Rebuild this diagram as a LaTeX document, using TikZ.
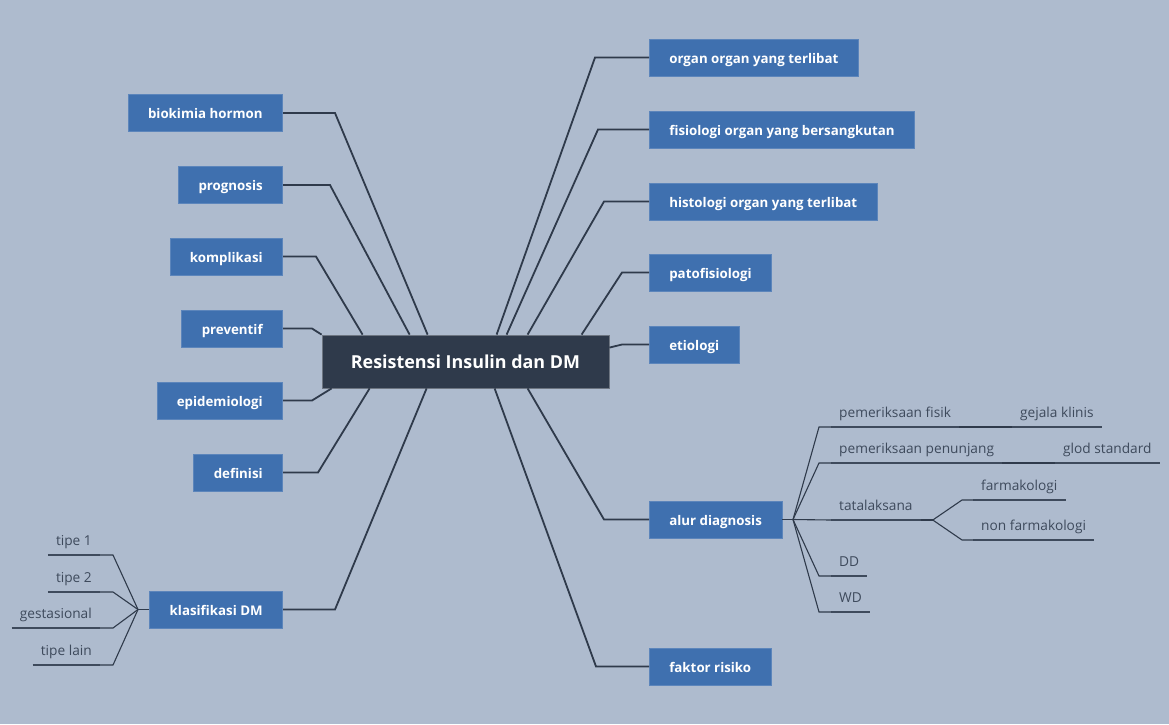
\documentclass[tikz,border=0pt]{standalone}
\usepackage{fontspec}
\setmainfont{Open Sans}
\definecolor{bgcol}{HTML}{AEBBCE}
\definecolor{topicblue}{HTML}{3F70AF}
\definecolor{rootcol}{HTML}{2F3A4B}
\definecolor{linecol}{HTML}{2F3A4B}
\definecolor{leafcol}{HTML}{3E4A5C}
\tikzset{
  root/.style={rectangle, fill=rootcol, draw=rootcol!70!white, line width=0.8pt, text=white,
    font=\fontsize{17.9}{21}\selectfont\bfseries, minimum width=287pt, minimum height=53pt,
    text height=13pt, text depth=0pt},
  topic/.style={rectangle, fill=topicblue, draw=topicblue!85!white, line width=0.6pt, text=white,
    font=\fontsize{13.3}{16}\selectfont\bfseries, minimum height=37pt, inner xsep=20pt,
    text height=11pt, text depth=0pt},
  leaf/.style={inner xsep=8pt, inner ysep=5pt, text=leafcol, text height=10pt, text depth=4pt,
    font=\fontsize{13.7}{16}\selectfont},
  branch/.style={draw=linecol, line width=1.8pt},
  twig/.style={draw=linecol, line width=1.1pt},
  uline/.style={draw=leafcol, line width=1.6pt}
}
\begin{document}
\begin{tikzpicture}[x=1pt,y=-1pt]
\fill[bgcol] (0,0) rectangle (1169,724);
\useasboundingbox (0,0) rectangle (1169,724);

\node[root] (c) at (465.5,361.5) {Resistensi Insulin dan DM};

% right topics
\node[topic, anchor=west] (org) at (649,57.5) {organ organ yang terlibat};
\node[topic, anchor=west] (fis) at (649,129.5) {fisiologi organ yang bersangkutan};
\node[topic, anchor=west] (his) at (649,201.5) {histologi organ yang terlibat};
\node[topic, anchor=west] (pat) at (649,272.5) {patofisiologi};
\node[topic, anchor=west] (eti) at (649,344.5) {etiologi};
\node[topic, anchor=west] (alur) at (649,519.5) {alur diagnosis};
\node[topic, anchor=west] (fak) at (649,666.5) {faktor risiko};

% left topics
\node[topic, anchor=east] (bio) at (283,113) {biokimia hormon};
\node[topic, anchor=east] (pro) at (283,185) {prognosis};
\node[topic, anchor=east] (kom) at (283,256.5) {komplikasi};
\node[topic, anchor=east] (pre) at (283,328.5) {preventif};
\node[topic, anchor=east] (epi) at (283,400.5) {epidemiologi};
\node[topic, anchor=east] (def) at (283,472.5) {definisi};
\node[topic, anchor=east] (kla) at (283,609.5) {klasifikasi DM};

\draw[branch] (org.west) -- ++(-54,0) -- ([xshift=175pt]c.north west);
\draw[branch] (fis.west) -- ++(-51,0) -- ([xshift=185pt]c.north west);
\draw[branch] (his.west) -- ++(-45,0) -- ([xshift=206pt]c.north west);
\draw[branch] (pat.west) -- ++(-27,0) -- ([xshift=260pt]c.north west);
\draw[branch] (eti.west) -- ++(-27,0) -- ([yshift=-13pt]c.north east);
\draw[branch] (alur.west) -- ++(-45,0) -- ([xshift=206pt]c.south west);
\draw[branch] (fak.west) -- ++(-53,0) -- ([xshift=173pt]c.south west);

\draw[branch] (bio.east) -- ++(52,0) -- ([xshift=106pt]c.north west);
\draw[branch] (pro.east) -- ++(47,0) -- ([xshift=88pt]c.north west);
\draw[branch] (kom.east) -- ++(33,0) -- ([xshift=41pt]c.north west);
\draw[branch] (pre.east) -- ++(29,0) -- (c.north west);
\draw[branch] (epi.east) -- ++(29,0) -- ([xshift=10pt]c.south west);
\draw[branch] (def.east) -- ++(35,0) -- ([xshift=48pt]c.south west);
\draw[branch] (kla.east) -- ++(52,0) -- ([xshift=105pt]c.south west);

% alur diagnosis leaves
\node[leaf, anchor=south west] (pf) at (831,427) {pemeriksaan fisik};
\node[leaf, anchor=south west] (gk) at (1012,427) {gejala klinis};
\node[leaf, anchor=south west] (pp) at (831,463) {pemeriksaan penunjang};
\node[leaf, anchor=south west] (gs) at (1055,463) {glod standard};
\node[leaf, anchor=south west] (tl) at (831,520) {tatalaksana};
\node[leaf, anchor=south west] (fk) at (973,500) {farmakologi};
\node[leaf, anchor=south west] (nf) at (973,540) {non farmakologi};
\node[leaf, anchor=south west] (dd) at (831,576) {DD};
\node[leaf, anchor=south west] (wd) at (831,612) {WD};

\foreach \n in {pf,gk,pp,gs,tl,fk,nf,dd,wd}
  \draw[uline] (\n.south west) -- (\n.south east);

\draw[twig] (alur.east) -- (793,519.5) coordinate (aj);
\draw[twig] (aj) -- (819,427) -- (pf.south west);
\draw[twig] (aj) -- (819,463) -- (pp.south west);
\draw[twig] (aj) -- (tl.south west);
\draw[twig] (aj) -- (819,576) -- (dd.south west);
\draw[twig] (aj) -- (819,612) -- (wd.south west);
\draw[twig] (pf.south east) -- (gk.south west);
\draw[twig] (pp.south east) -- (gs.south west);
\draw[twig] (tl.south east) -- ++(12,0) coordinate (tj);
\draw[twig] (tj) -- (962,500) -- (fk.south west);
\draw[twig] (tj) -- (962,540) -- (nf.south west);

% klasifikasi leaves
\node[leaf, anchor=south east] (t1) at (100,555) {tipe 1};
\node[leaf, anchor=south east] (t2) at (100,592) {tipe 2};
\node[leaf, anchor=south east] (ge) at (100,628) {gestasional};
\node[leaf, anchor=south east] (tla) at (100,665) {tipe lain};

\foreach \n in {t1,t2,ge,tla}
  \draw[uline] (\n.south west) -- (\n.south east);

\draw[twig] (kla.west) -- (138,609.5) coordinate (kj);
\draw[twig] (kj) -- (113,555) -- (t1.south east);
\draw[twig] (kj) -- (113,592) -- (t2.south east);
\draw[twig] (kj) -- (113,628) -- (ge.south east);
\draw[twig] (kj) -- (113,665) -- (tla.south east);
\end{tikzpicture}
\end{document}
